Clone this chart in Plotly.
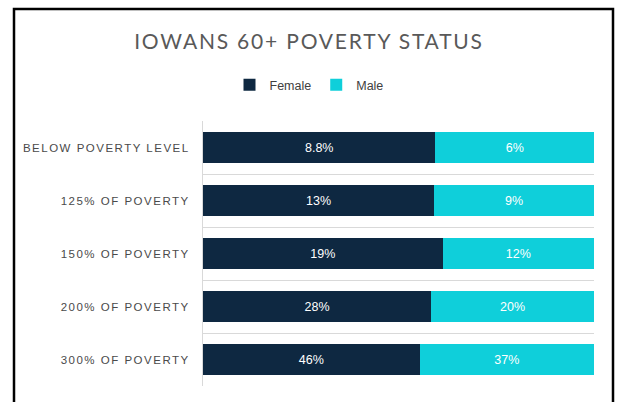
import plotly.graph_objects as go

categories = ["BELOW POVERTY LEVEL", "125% OF POVERTY", "150% OF POVERTY",
              "200% OF POVERTY", "300% OF POVERTY"]
female = [8.8, 13, 19, 28, 46]
male = [6, 9, 12, 20, 37]
female_labels = ["8.8%", "13%", "19%", "28%", "46%"]
male_labels = ["6%", "9%", "12%", "20%", "37%"]

NAVY = "#0E2841"
CYAN = "#0FCFDA"
GRID = "#D9D9D9"
TXT = "#595959"
SANS = "Liberation Sans, Arial, sans-serif"

fig = go.Figure()
fig.add_trace(go.Bar(
    y=categories, x=female, name="Female", orientation="h",
    marker=dict(color=NAVY, line=dict(width=0)),
    text=female_labels, textposition="inside", insidetextanchor="middle",
    textfont=dict(color="white", size=12.5, family=SANS),
    hoverinfo="skip",
))
fig.add_trace(go.Bar(
    y=categories, x=male, name="Male", orientation="h",
    marker=dict(color=CYAN, line=dict(width=0)),
    text=male_labels, textposition="inside", insidetextanchor="middle",
    textfont=dict(color="white", size=12.5, family=SANS),
    hoverinfo="skip",
))

fig.update_layout(
    width=618, height=402,
    barmode="stack", barnorm="percent", bargap=0.43,
    margin=dict(l=203, r=24, t=121, b=16),
    paper_bgcolor="white", plot_bgcolor="white",
    uniformtext=dict(minsize=8, mode="show"),
    title=dict(text="IOWANS 60+ POVERTY STATUS", x=0.5, xref="container", xanchor="center",
               y=1 - 42 / 402, yref="container", yanchor="middle",
               font=dict(family="Lato, Open Sans, sans-serif", size=21, color=TXT)),
    legend=dict(orientation="h", x=0.5, xref="container", xanchor="center",
                y=1 - 85 / 402, yref="container", yanchor="middle",
                font=dict(family=SANS, size=12.5, color="#404040"),
                itemwidth=30, tracegroupgap=0, traceorder="normal"),
    xaxis=dict(range=[0, 100], visible=False, fixedrange=True),
    yaxis=dict(type="category", autorange="reversed", tickson="boundaries",
               showgrid=True, gridcolor=GRID, gridwidth=1,
               showline=True, linecolor=GRID, linewidth=1,
               ticks="", ticklabelstandoff=10, fixedrange=True,
               tickfont=dict(family=SANS, size=11.5, color="#4a4a4a")),
    shapes=[dict(type="rect", xref="paper", yref="paper",
                 x0=(14 - 203) / 391, x1=(613 - 203) / 391,
                 y0=(386 - 420) / 265, y1=(386 - 9) / 265,
                 line=dict(color="black", width=2.5), fillcolor="rgba(0,0,0,0)", layer="above")],
)

post = """
document.body.style.margin = '0';
document.body.style.padding = '0';
var gd = document.getElementById('{plot_id}');
function ls(){
  gd.querySelectorAll('.gtitle').forEach(function(e){ e.style.letterSpacing = '1.8px'; });
  gd.querySelectorAll('.ytick text').forEach(function(e){ e.style.letterSpacing = '1.5px'; });
}
ls();
gd.on('plotly_afterplot', ls);
"""

fig.write_html("out.html", post_script=post, config={"displayModeBar": False, "staticPlot": True})
